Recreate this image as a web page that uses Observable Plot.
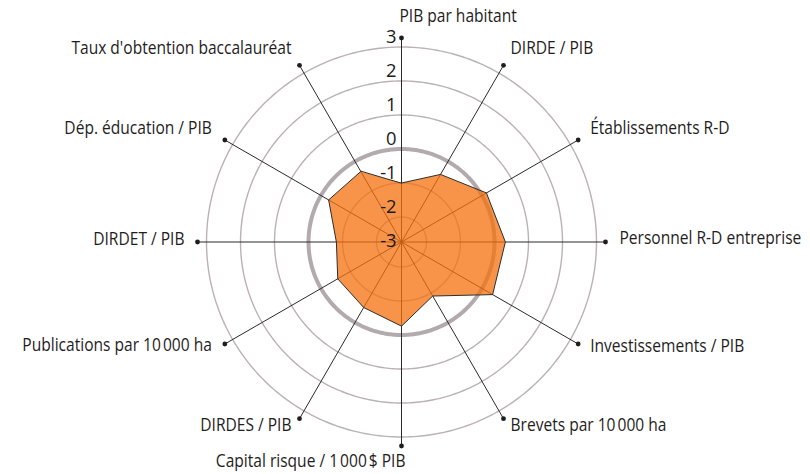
<!DOCTYPE html>
<html>
<head>
<meta charset="utf-8">
<script src="https://cdn.jsdelivr.net/npm/d3@7"></script>
<script src="https://cdn.jsdelivr.net/npm/@observablehq/plot@0.6"></script>
<style>
  body { margin: 0; background: #fff; }
  #chart svg { display: block; font-family: "Open Sans", "Noto Sans", sans-serif; }
</style>
</head>
<body>
<div id="chart"></div>
<script>
// ---- data ----
const indicators = [
  "PIB par habitant",
  "DIRDE / PIB",
  "Établissements R-D",
  "Personnel R-D entreprise",
  "Investissements / PIB",
  "Brevets par 10\u202F000 ha",
  "Capital risque / 1\u202F000\u202F$ PIB",
  "DIRDES / PIB",
  "Publications par 10\u202F000 ha",
  "DIRDET / PIB",
  "Dép. éducation / PIB",
  "Taux d'obtention baccalauréat"
];
const values = [-1.0, -0.44, 0.15, 0.32, 0.36, -0.9, -0.26, -0.51, -0.57, -0.82, -0.26, -0.34];
const ringValues = [-2, -1, 0, 1, 2, 3];
const tickValues = [3, 2, 1, 0, -1, -2, -3];
const tickLabels = ["3", "2", "1", "0", "-1", "-2", "-3"];
const axisEndValue = 3.265;
const centerValue = -2.735;

// ---- layout helpers (not data) ----
const U = 0.1; // degrees per value unit
const rdeg = v => Math.max(0, (v - centerValue) * U);
const lon = i => 180 - i * (360 / indicators.length);
const lat = v => 90 - rdeg(v);

const labelPlacement = [
  {dx: -2, dy: -22, anchor: "start"},
  {dx: 7, dy: -17, anchor: "start"},
  {dx: 12, dy: -12, anchor: "start"},
  {dx: 14, dy: -4, anchor: "start"},
  {dx: 12, dy: 2, anchor: "start"},
  {dx: 7, dy: 7, anchor: "start"},
  {dx: 4, dy: 15, anchor: "end"},
  {dx: -8, dy: 7, anchor: "end"},
  {dx: -13, dy: 1, anchor: "end"},
  {dx: -13, dy: -3, anchor: "end"},
  {dx: -13, dy: -12, anchor: "end"},
  {dx: -8, dy: -17, anchor: "end"}
];

const axes = indicators.map((name, i) => ({name, i, lon: lon(i), lat: lat(axisEndValue)}));
const poly = values.map((v, i) => ({lon: lon(i), lat: lat(v)}));
const ticks = tickValues.map((v, k) => ({label: tickLabels[k], lat: 90 - Math.max(0.0001, (v - centerValue) * U + 10 / 34 * U)}));

const circle = v => d3.geoCircle().center([0, 90]).radius(rdeg(v)).precision(1)();

const marks = [
  ...ringValues.filter(v => v !== 0).map(v => Plot.geo(circle(v), {stroke: "#bab2b5", strokeWidth: 1.4, fill: "none"})),
  Plot.geo(circle(0), {stroke: "#b3aaae", strokeWidth: 4, fill: "none"}),
  Plot.link(axes, {x1: "lon", y1: 90, x2: "lon", y2: "lat", stroke: "#2a2a2a", strokeWidth: 1}),
  Plot.dot(axes, {x: "lon", y: "lat", r: 2.4, fill: "#1e1e1e", stroke: "none"}),
  Plot.line(poly, {x: "lon", y: "lat", curve: "linear-closed", fill: "#f4700e", fillOpacity: 0.75, stroke: "#2d2d2d", strokeWidth: 1}),
  Plot.text(ticks, {x: 180, y: "lat", text: "label", textAnchor: "end", dx: -5, fontSize: 19, fill: "#1a1a1a", className: "tick-label"}),
  ...axes.map((a, i) => Plot.text([a], {x: "lon", y: "lat", text: "name", textAnchor: labelPlacement[i].anchor, dx: labelPlacement[i].dx, dy: labelPlacement[i].dy, fontSize: 18, fill: "#1f1d1e", className: "axis-label"}))
];

const chart = Plot.plot({
  width: 810,
  height: 474,
  marginTop: 37.5,
  marginBottom: 28.5,
  marginLeft: 197,
  marginRight: 205,
  projection: {
    type: "azimuthal-equidistant",
    rotate: [0, -90],
    clip: false,
    domain: d3.geoCircle().center([0, 90]).radius(rdeg(axisEndValue)).precision(0.5)()
  },
  marks
});
document.getElementById("chart").appendChild(chart);

// condense the humanist sans horizontally to mimic the condensed face of the reference
const texts = Array.from(chart.querySelectorAll("g.axis-label text, g.tick-label text"));
const ref = texts.find(t => t.textContent === "Personnel R-D entreprise");
const sx = ref ? Math.min(1, 182 / ref.getComputedTextLength()) : 0.8;
for (const t of texts) {
  const s = t.closest("g.tick-label") ? Math.min(1, sx + 0.1) : sx;
  const tr = t.getAttribute("transform") || "";
  t.setAttribute("transform", tr + ` scale(${s},1)`);
}
</script>
</body>
</html>
